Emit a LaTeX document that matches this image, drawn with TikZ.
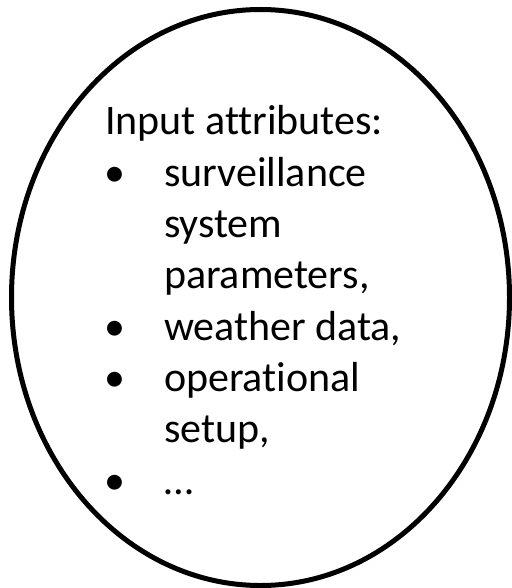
\documentclass[tikz,border=0pt]{standalone}
\usepackage{fontspec}
\setmainfont{Carlito}[Ligatures=NoCommon]
\begin{document}
\begin{tikzpicture}[x=1pt,y=-1pt,
  txt/.style={anchor=base west,inner sep=0pt,outer sep=0pt,
    font=\fontsize{42}{50}\selectfont},
  blob/.style={draw=black,line width=5pt}]
\useasboundingbox (0,0) rectangle (511,588);
% outline
\draw[blob] (260.5,297.5) ellipse [x radius=249, y radius=288];
% heading
\node[txt] (title) at (105,135) {Input attributes:};
% bullet markers
\node[txt] (b1) at (104,186.3) {•};
\node[txt] (b2) at (104,340.2) {•};
\node[txt] (b3) at (104,391.5) {•};
\node[txt] (b4) at (104,494.1) {•};
% item texts
\node[txt] (t1a) at (164,186.3) {surveillance};
\node[txt] (t1b) at (164,237.6) {system};
\node[txt] (t1c) at (164,288.9) {parameters,};
\node[txt] (t2)  at (164,340.2) {weather data,};
\node[txt] (t3a) at (164,391.5) {operational};
\node[txt] (t3b) at (164,442.8) {setup,};
\node[txt] (t4)  at (164,494.1) {…};
\end{tikzpicture}
\end{document}
